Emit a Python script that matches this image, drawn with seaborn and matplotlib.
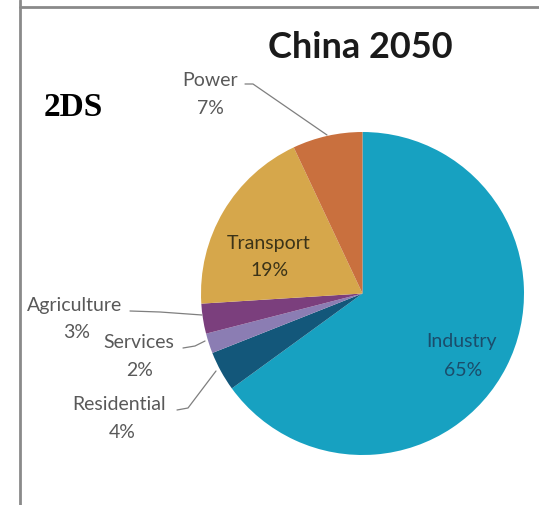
import matplotlib
matplotlib.use("Agg")
import matplotlib.pyplot as plt
from matplotlib.lines import Line2D
import seaborn as sns

sectors = ["Industry", "Residential", "Services", "Agriculture", "Transport", "Power"]
shares = [65, 4, 2, 3, 19, 7]
colors = ["#17a1c1", "#13577a", "#8b7db3", "#7b3f7d", "#d6a74b", "#c9703e"]
title = "China 2050"
scenario = "2DS"

sns.set_theme(style="white")
plt.rcParams["font.family"] = ["Lato", "DejaVu Sans"]

W, H = 539, 505
fig = plt.figure(figsize=(W / 100, H / 100), dpi=100)
ax = fig.add_axes([0, 0, 1, 1])

def Y(y):
    return H - y

ax.pie(shares, colors=colors, startangle=90, counterclock=False,
       center=(362.5, Y(293.5)), radius=161.5,
       wedgeprops=dict(linewidth=0))
ax.set_xlim(0, W)
ax.set_ylim(0, H)
ax.set_aspect("equal")
ax.set_axis_off()

# frame lines
fig.add_artist(Line2D([20 / W, 20 / W], [0, 1], color="#8a8a8a", lw=2, transform=fig.transFigure))
fig.add_artist(Line2D([20 / W, 1], [Y(7) / H, Y(7) / H], color="#8a8a8a", lw=2, transform=fig.transFigure))

ax.text(360, Y(48), title, fontsize=26, fontweight="bold", color="#1a1a1a", ha="center", va="center")
ax.text(73.5, Y(108), scenario, fontsize=24, fontweight="bold", color="black",
        family=["Liberation Serif", "DejaVu Serif"], ha="center", va="center")

lab = dict(fontsize=14, ha="center", va="center")
gray = "#595959"
# inside labels
ax.text(462, Y(342), sectors[0], color="#1b4d6b", **lab)
ax.text(463, Y(370), f"{shares[0]}%", color="#1b4d6b", **lab)
ax.text(269, Y(243), sectors[4], color="#3b3318", **lab)
ax.text(270, Y(271), f"{shares[4]}%", color="#3b3318", **lab)

# outside labels with leaders
outside = {
    5: ((210, 80), (210, 108), [(245, 84), (253, 84), (327, 135)]),
    3: ((75, 305), (77, 332), [(130, 311), (160, 312), (202, 315)]),
    2: ((139, 343), (140, 370), [(183, 348), (195, 346), (205, 341)]),
    1: ((119, 405), (122, 433), [(177, 410), (188, 408), (216, 371)]),
}
for i, (p1, p2, pts) in outside.items():
    ax.text(p1[0], Y(p1[1]), sectors[i], color=gray, **lab)
    ax.text(p2[0], Y(p2[1]), f"{shares[i]}%", color=gray, **lab)
    ax.plot([p[0] for p in pts], [Y(p[1]) for p in pts], color="#7f7f7f", lw=0.9)

fig.savefig("out.png", dpi=100)
